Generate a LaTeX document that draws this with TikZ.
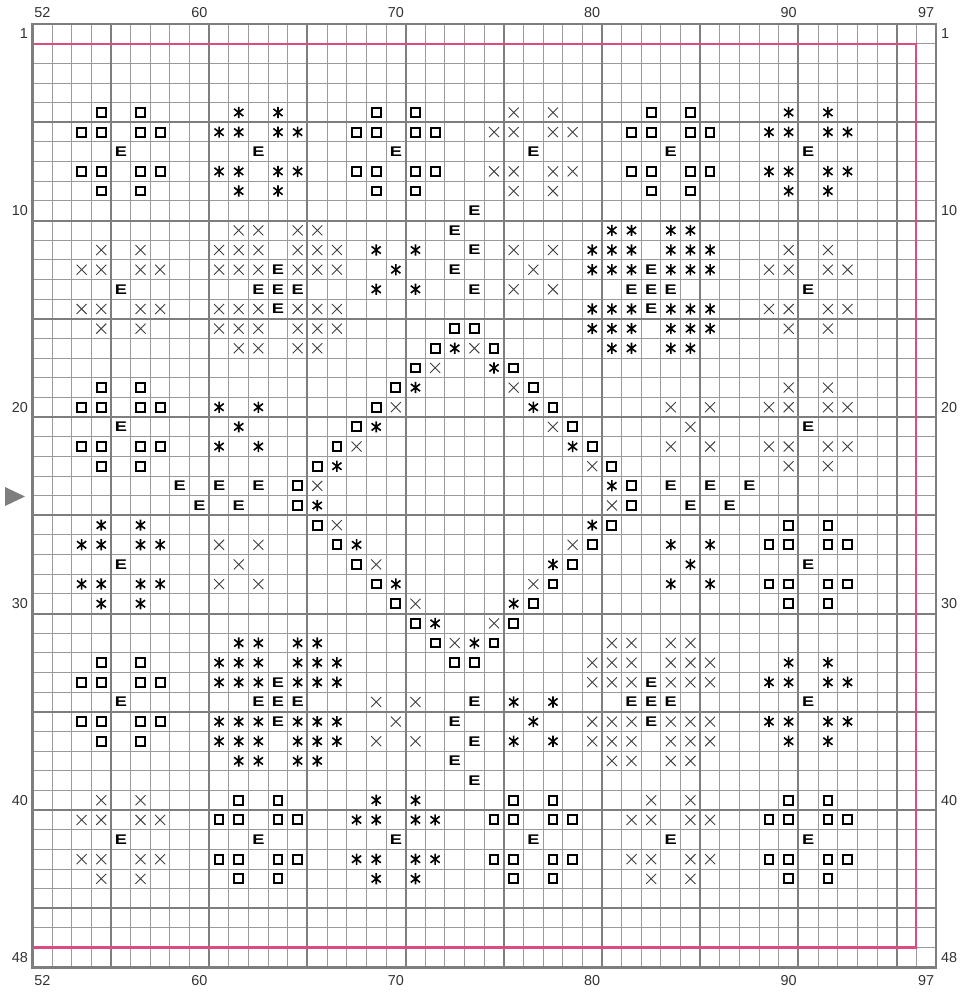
\documentclass[tikz,border=0pt]{standalone}
\usepackage{fontspec}
\setmainfont{Liberation Sans}
\definecolor{gridlight}{HTML}{9A9A9A}
\definecolor{gridheavy}{HTML}{7E7E7E}
\definecolor{guide}{HTML}{DD4B80}
\definecolor{labelc}{HTML}{333333}
\newcommand\gx{32.5}
\newcommand\gy{24.05}
\newcommand\gw{19.64}
\newcommand\gh{19.65}
\newcommand\SqRow[2]{\foreach \i in {#2}{\draw[symsq] ({\gx+\gw*(\i+0.5)-4.4},{\gy+\gh*(#1+0.5)-4.4}) rectangle ++(8.8,8.8);}}
\newcommand\AsRow[2]{\foreach \i in {#2}{\begin{scope}[shift={({\gx+\gw*(\i+0.5)},{\gy+\gh*(#1+0.5)})}]\draw[symas] (0,-5.6)--(0,5.6) (-4.6,-3.6)--(4.6,3.6) (-4.6,3.6)--(4.6,-3.6);\end{scope}}}
\newcommand\XRow[2]{\foreach \i in {#2}{\begin{scope}[shift={({\gx+\gw*(\i+0.5)},{\gy+\gh*(#1+0.5)})}]\draw[symx] (-5,-5)--(5,5) (-5,5)--(5,-5);\end{scope}}}
\newcommand\ERow[2]{\foreach \i in {#2}{\node[symE] (e#1x\i) at ({\gx+\gw*(\i+0.5)},{\gy+\gh*(#1+0.5)}) {\scalebox{1.3}[1]{E}};}}
\tikzset{
  x=1pt,y=-1pt,
  lightline/.style={draw=gridlight,line width=1pt},
  heavyline/.style={draw=gridheavy,line width=2pt},
  outerline/.style={draw=gridheavy,line width=2.8pt},
  guideline/.style={draw=guide,line width=2.3pt,line join=miter},
  symsq/.style={draw=black,line width=2pt},
  symas/.style={draw=black,line width=1.6pt},
  symx/.style={draw=black!75,line width=0.9pt},
  symE/.style={inner sep=0pt,font=\fontsize{14}{14}\selectfont\bfseries,text=black},
  collab/.style={font=\fontsize{14.4}{14.4}\selectfont,text=labelc,inner sep=0pt},
}
\begin{document}
\begin{tikzpicture}
\useasboundingbox (0,0) rectangle (960,994);
\fill[white] (0,0) rectangle (960,994);
% grid
\foreach \i in {0,...,46}{\draw[lightline] ({\gx+\gw*\i},{\gy}) -- ({\gx+\gw*\i},{\gy+\gh*48});}
\foreach \j in {0,...,48}{\draw[lightline] ({\gx},{\gy+\gh*\j}) -- ({\gx+\gw*46},{\gy+\gh*\j});}
\foreach \i in {4,9,14,...,44}{\draw[heavyline] ({\gx+\gw*\i},{\gy}) -- ({\gx+\gw*\i},{\gy+\gh*48});}
\foreach \j in {5,10,...,45}{\draw[heavyline] ({\gx},{\gy+\gh*\j}) -- ({\gx+\gw*46},{\gy+\gh*\j});}
\draw[outerline] ({\gx},{\gy}) rectangle ({\gx+\gw*46},{\gy+\gh*48});
% centre guide frame
\draw[guideline] ({\gx},{\gy+\gh}) -- ({\gx+\gw*45},{\gy+\gh}) -- ({\gx+\gw*45},{\gy+\gh*47}) -- ({\gx},{\gy+\gh*47});
% marker
\fill[gridheavy] (5,487) -- (25,496.5) -- (5,506) -- cycle;
% axis labels
\foreach \t/\c in {52/0,60/8,70/18,80/28,90/38,97/45}{
  \node[collab] (top\t) at ({\gx+\gw*(\c+0.5)},13) {\t};
  \node[collab] (bot\t) at ({\gx+\gw*(\c+0.5)},980.5) {\t};
}
\foreach \t/\r in {1/0,10/9,20/19,30/29,40/39,48/47}{
  \node[collab,anchor=east] (left\t) at (28,{\gy+\gh*(\r+0.5)}) {\t};
  \node[collab,anchor=west] (right\t) at (941,{\gy+\gh*(\r+0.5)}) {\t};
}
% symbols
\SqRow{4}{3,5,17,19,31,33}\AsRow{4}{10,12,38,40}\XRow{4}{24,26}
\SqRow{5}{2,3,5,6,16,17,19,20,30,31,33,34}\AsRow{5}{9,10,12,13,37,38,40,41}\XRow{5}{23,24,26,27}
\ERow{6}{4,11,18,25,32,39}
\SqRow{7}{2,3,5,6,16,17,19,20,30,31,33,34}\AsRow{7}{9,10,12,13,37,38,40,41}\XRow{7}{23,24,26,27}
\SqRow{8}{3,5,17,19,31,33}\AsRow{8}{10,12,38,40}\XRow{8}{24,26}
\ERow{9}{22}
\XRow{10}{10,11,13,14}\ERow{10}{21}\AsRow{10}{29,30,32,33}
\XRow{11}{3,5,9,10,11,13,14,15,24,26,38,40}\AsRow{11}{17,19,28,29,30,32,33,34}\ERow{11}{22}
\XRow{12}{2,3,5,6,9,10,11,13,14,15,25,37,38,40,41}\ERow{12}{12,21,31}\AsRow{12}{18,28,29,30,32,33,34}
\ERow{13}{4,11,12,13,22,30,31,32,39}\AsRow{13}{17,19}\XRow{13}{24,26}
\XRow{14}{2,3,5,6,9,10,11,13,14,15,37,38,40,41}\ERow{14}{12,31}\AsRow{14}{28,29,30,32,33,34}
\XRow{15}{3,5,9,10,11,13,14,15,38,40}\SqRow{15}{21,22}\AsRow{15}{28,29,30,32,33,34}
\XRow{16}{10,11,13,14,22}\SqRow{16}{20,23}\AsRow{16}{21,29,30,32,33}
\SqRow{17}{19,24}\XRow{17}{20}\AsRow{17}{23}
\SqRow{18}{3,5,18,25}\AsRow{18}{19}\XRow{18}{24,38,40}
\SqRow{19}{2,3,5,6,17,26}\AsRow{19}{9,11,25}\XRow{19}{18,32,34,37,38,40,41}
\ERow{20}{4,39}\AsRow{20}{10,17}\SqRow{20}{16,27}\XRow{20}{26,33}
\SqRow{21}{2,3,5,6,15,28}\AsRow{21}{9,11,27}\XRow{21}{16,32,34,37,38,40,41}
\SqRow{22}{3,5,14,29}\AsRow{22}{15}\XRow{22}{28,38,40}
\ERow{23}{7,9,11,32,34,36}\SqRow{23}{13,30}\XRow{23}{14}\AsRow{23}{29}
\ERow{24}{8,10,33,35}\SqRow{24}{13,30}\AsRow{24}{14}\XRow{24}{29}
\AsRow{25}{3,5,28}\SqRow{25}{14,29,38,40}\XRow{25}{15}
\AsRow{26}{2,3,5,6,16,32,34}\XRow{26}{9,11,27}\SqRow{26}{15,28,37,38,40,41}
\ERow{27}{4,39}\XRow{27}{10,17}\SqRow{27}{16,27}\AsRow{27}{26,33}
\AsRow{28}{2,3,5,6,18,32,34}\XRow{28}{9,11,25}\SqRow{28}{17,26,37,38,40,41}
\AsRow{29}{3,5,24}\SqRow{29}{18,25,38,40}\XRow{29}{19}
\SqRow{30}{19,24}\AsRow{30}{20}\XRow{30}{23}
\AsRow{31}{10,11,13,14,22}\SqRow{31}{20,23}\XRow{31}{21,29,30,32,33}
\SqRow{32}{3,5,21,22}\AsRow{32}{9,10,11,13,14,15,38,40}\XRow{32}{28,29,30,32,33,34}
\SqRow{33}{2,3,5,6}\AsRow{33}{9,10,11,13,14,15,37,38,40,41}\ERow{33}{12,31}\XRow{33}{28,29,30,32,33,34}
\ERow{34}{4,11,12,13,22,30,31,32,39}\XRow{34}{17,19}\AsRow{34}{24,26}
\SqRow{35}{2,3,5,6}\AsRow{35}{9,10,11,13,14,15,25,37,38,40,41}\ERow{35}{12,21,31}\XRow{35}{18,28,29,30,32,33,34}
\SqRow{36}{3,5}\AsRow{36}{9,10,11,13,14,15,24,26,38,40}\XRow{36}{17,19,28,29,30,32,33,34}\ERow{36}{22}
\AsRow{37}{10,11,13,14}\ERow{37}{21}\XRow{37}{29,30,32,33}
\ERow{38}{22}
\XRow{39}{3,5,31,33}\SqRow{39}{10,12,24,26,38,40}\AsRow{39}{17,19}
\XRow{40}{2,3,5,6,30,31,33,34}\SqRow{40}{9,10,12,13,23,24,26,27,37,38,40,41}\AsRow{40}{16,17,19,20}
\ERow{41}{4,11,18,25,32,39}
\XRow{42}{2,3,5,6,30,31,33,34}\SqRow{42}{9,10,12,13,23,24,26,27,37,38,40,41}\AsRow{42}{16,17,19,20}
\XRow{43}{3,5,31,33}\SqRow{43}{10,12,24,26,38,40}\AsRow{43}{17,19}
\end{tikzpicture}
\end{document}
